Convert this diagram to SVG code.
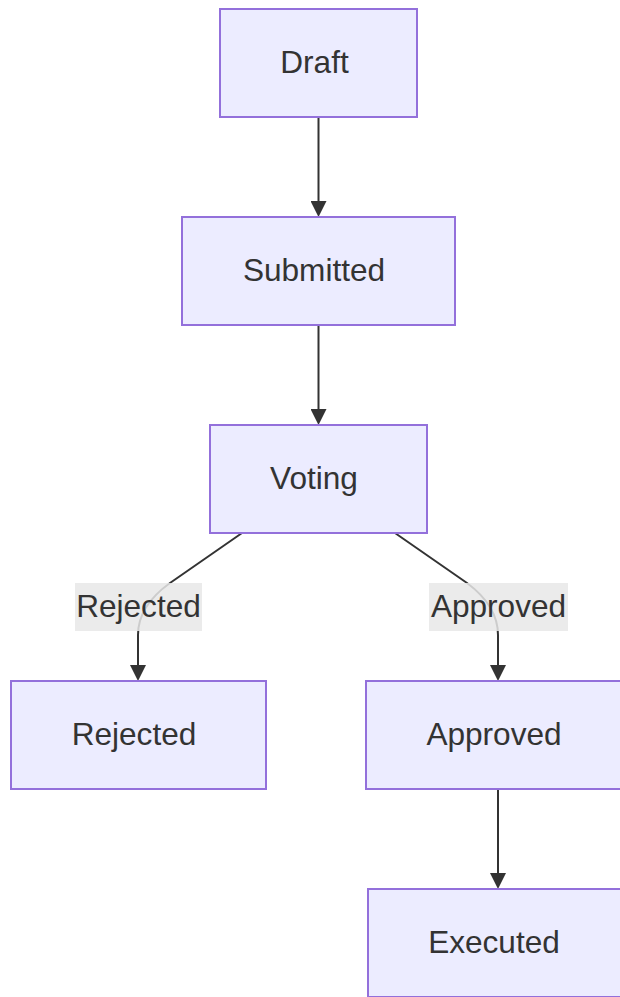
<svg xmlns="http://www.w3.org/2000/svg" width="620" height="997" viewBox="0 0 620 997">
<style>
.node rect{fill:#ECECFF;stroke:#9370DB;stroke-width:2}
text{font-family:"Liberation Sans",Arial,sans-serif;font-size:31.6px;fill:#333;text-anchor:middle}
.edge{fill:none;stroke:#333;stroke-width:2}
.lbl rect{fill:#e8e8e8;fill-opacity:0.85}
</style>
<defs>
<marker id="arr" markerUnits="userSpaceOnUse" markerWidth="16" markerHeight="16" refX="0" refY="8" orient="auto" viewBox="0 0 16 16">
<path d="M0,0 L16,8 L0,16 z" fill="#333"/>
</marker>
</defs>
<g id="connectors">
<path class="edge" d="M318.5,117 L318.5,201" marker-end="url(#arr)"/>
<path class="edge" d="M318.5,325 L318.5,409" marker-end="url(#arr)"/>
<path class="edge" d="M242,533 L170,583 Q138,606 138,635 L138,665" marker-end="url(#arr)"/>
<path class="edge" d="M395,533 L467,583 Q498,606 498,635 L498,665" marker-end="url(#arr)"/>
<path class="edge" d="M498,789 L498,873" marker-end="url(#arr)"/>
</g>
<g id="label-rejected" class="lbl">
<rect x="75" y="583" width="127" height="48"/>
<text x="138.5" y="617">Rejected</text>
</g>
<g id="label-approved" class="lbl">
<rect x="429" y="583" width="139" height="48"/>
<text x="498.5" y="617">Approved</text>
</g>
<g id="draft" class="node">
<rect x="220" y="9" width="197" height="108"/>
<text x="314.5" y="73">Draft</text>
</g>
<g id="submitted" class="node">
<rect x="182" y="217" width="273" height="108"/>
<text x="314" y="281">Submitted</text>
</g>
<g id="voting" class="node">
<rect x="210" y="425" width="217" height="108"/>
<text x="314" y="489">Voting</text>
</g>
<g id="rejected" class="node">
<rect x="11" y="681" width="255" height="108"/>
<text x="134" y="745">Rejected</text>
</g>
<g id="approved" class="node">
<rect x="366" y="681" width="258" height="108"/>
<text x="494" y="745">Approved</text>
</g>
<g id="executed" class="node">
<rect x="368" y="889" width="256" height="108"/>
<text x="494" y="953">Executed</text>
</g>
</svg>
